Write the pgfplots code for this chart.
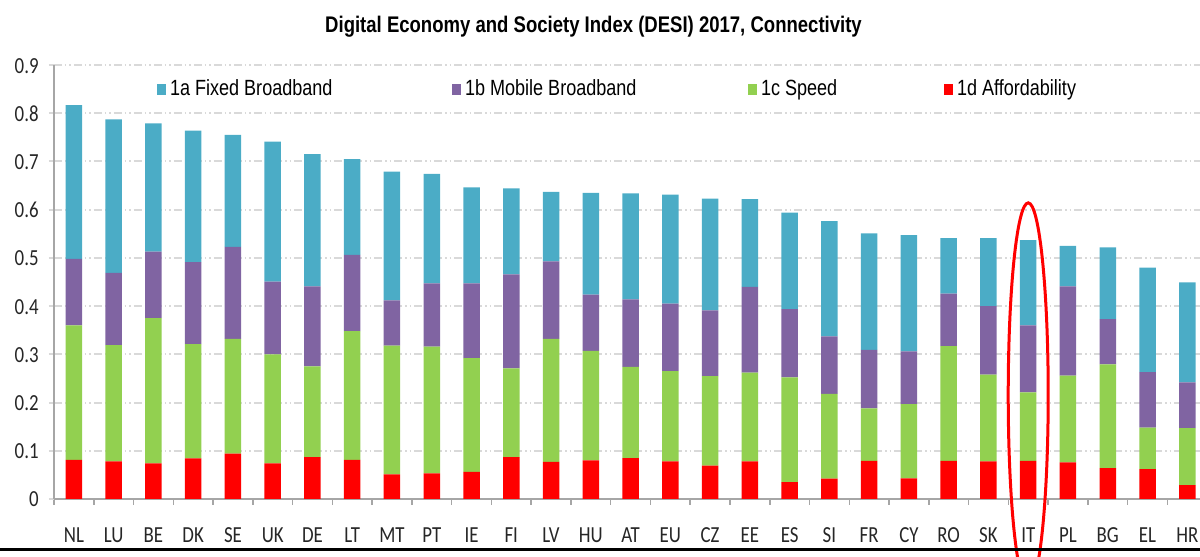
\documentclass[border=0pt]{standalone}
\usepackage{pgfplots}
\pgfplotsset{compat=1.18}
\usepackage{pgfplotstable}
\usepackage{fontspec}
\setmainfont{Liberation Sans}
\newfontfamily\narrow[FakeStretch=0.82]{Liberation Sans}
\newfontfamily\carlito[FakeStretch=0.82]{Carlito}
\definecolor{cA}{HTML}{4BACC6}
\definecolor{cB}{HTML}{8064A2}
\definecolor{cC}{HTML}{92D050}
\definecolor{cD}{HTML}{FF0000}
\definecolor{gridc}{HTML}{D9D9D9}
\definecolor{axc}{HTML}{A6A6A6}

\pgfplotstableread{
x  red   green purple blue
0  0.081 0.279 0.138 0.319
1  0.078 0.241 0.150 0.318
2  0.074 0.301 0.138 0.266
3  0.084 0.237 0.170 0.273
4  0.094 0.238 0.191 0.232
5  0.074 0.226 0.151 0.290
6  0.087 0.188 0.166 0.274
7  0.081 0.267 0.158 0.199
8  0.051 0.267 0.094 0.267
9  0.053 0.263 0.131 0.227
10 0.056 0.236 0.155 0.199
11 0.087 0.184 0.195 0.178
12 0.077 0.255 0.161 0.144
13 0.080 0.227 0.117 0.211
14 0.085 0.189 0.140 0.220
15 0.078 0.187 0.140 0.226
16 0.069 0.186 0.136 0.232
17 0.078 0.184 0.178 0.182
18 0.035 0.217 0.142 0.200
19 0.042 0.176 0.119 0.239
20 0.079 0.109 0.121 0.242
21 0.043 0.154 0.109 0.241
22 0.079 0.238 0.109 0.115
23 0.078 0.180 0.142 0.141
24 0.079 0.142 0.139 0.177
25 0.076 0.180 0.185 0.084
26 0.064 0.215 0.094 0.149
27 0.062 0.086 0.115 0.217
28 0.029 0.118 0.095 0.207
}\data

\pgfplotsset{sq legend/.style={legend image code/.code={\fill[##1] (0pt,-2.75pt) rectangle (4.5pt,2.75pt);}}}

\begin{document}
\begin{tikzpicture}
\path[use as bounding box] (-27pt,-29pt) rectangle (573pt,249.5pt);
\begin{axis}[
  at={(0,0)}, anchor=south west,
  scale only axis, width=573pt, height=217pt,
  ybar stacked, bar width=0.415,
  xmin=-0.5, xmax=28.32, ymin=0, ymax=0.9,
  clip=false,
  axis x line*=bottom, axis y line*=left,
  axis line style={axc, line width=0.75pt},
  xtick={0,...,28},
  xticklabels={NL,LU,BE,DK,SE,UK,DE,LT,MT,PT,IE,FI,LV,HU,AT,EU,CZ,EE,ES,SI,FR,CY,RO,SK,IT,PL,BG,EL,HR},
  major x tick style={draw=none},
  minor xtick={-0.5,0.5,...,27.5},
  minor x tick style={axc, line width=0.75pt},
  minor tick length=3pt,
  tick align=outside,
  ytick={0,0.1,0.2,0.3,0.4,0.5,0.6,0.7,0.8,0.9},
  major y tick style={gridc, line width=1pt},
  major tick length=2.5pt,
  ymajorgrids,
  major grid style={gridc, line width=1pt, dash pattern=on 4pt off 1.5pt on 0.75pt off 1.5pt on 0.75pt off 1.5pt},
  /pgf/number format/.cd, fixed, precision=1, assume math mode=true, /pgfplots/.cd,
  ticklabel style={font=\carlito\fontsize{11.5}{13}\selectfont, text=black!85},
  xticklabel style={anchor=base, inner sep=0pt, yshift=-19.5pt},
  yticklabel style={anchor=base east, inner sep=0pt, xshift=-5pt, yshift=-4pt},
  legend columns=4,
  reverse legend,
  legend style={draw=none, fill=none, at={(0.0899,0.9447)}, anchor=west, inner sep=0pt, outer sep=0pt,
    font=\narrow\fontsize{11}{13}\selectfont,
    nodes={inner sep=0pt, anchor=west},
    /tikz/every even column/.append style={column sep=0pt}},
]
\addplot[fill=cD, draw=none, sq legend] table[x=x, y=red] {\data};
\addplot[fill=cC, draw=none, sq legend] table[x=x, y=green] {\data};
\addplot[fill=cB, draw=none, sq legend] table[x=x, y=purple] {\data};
\addplot[fill=cA, draw=none, sq legend] table[x=x, y=blue] {\data};
\addlegendentry{\makebox[143pt][l]{\hspace{2pt}1d Affordability}}
\addlegendentry{\makebox[93.5pt][l]{\hspace{2pt}1c Speed}}
\addlegendentry{\makebox[143.5pt][l]{\hspace{2pt}1b Mobile Broadband}}
\addlegendentry{\makebox[143pt][l]{\hspace{2pt}1a Fixed Broadband}}
\draw[red, line width=1.5pt] (axis cs:24,0.216) ellipse [x radius=10pt, y radius=96pt];
\end{axis}
\node[anchor=base, font=\narrow\bfseries\fontsize{11.3}{13}\selectfont] at (269.75pt,233pt) {Digital Economy and Society Index (DESI) 2017, Connectivity};
\draw[black, line width=1.6pt] (-27pt,-25.25pt) -- (573pt,-25.25pt);
\end{tikzpicture}
\end{document}
